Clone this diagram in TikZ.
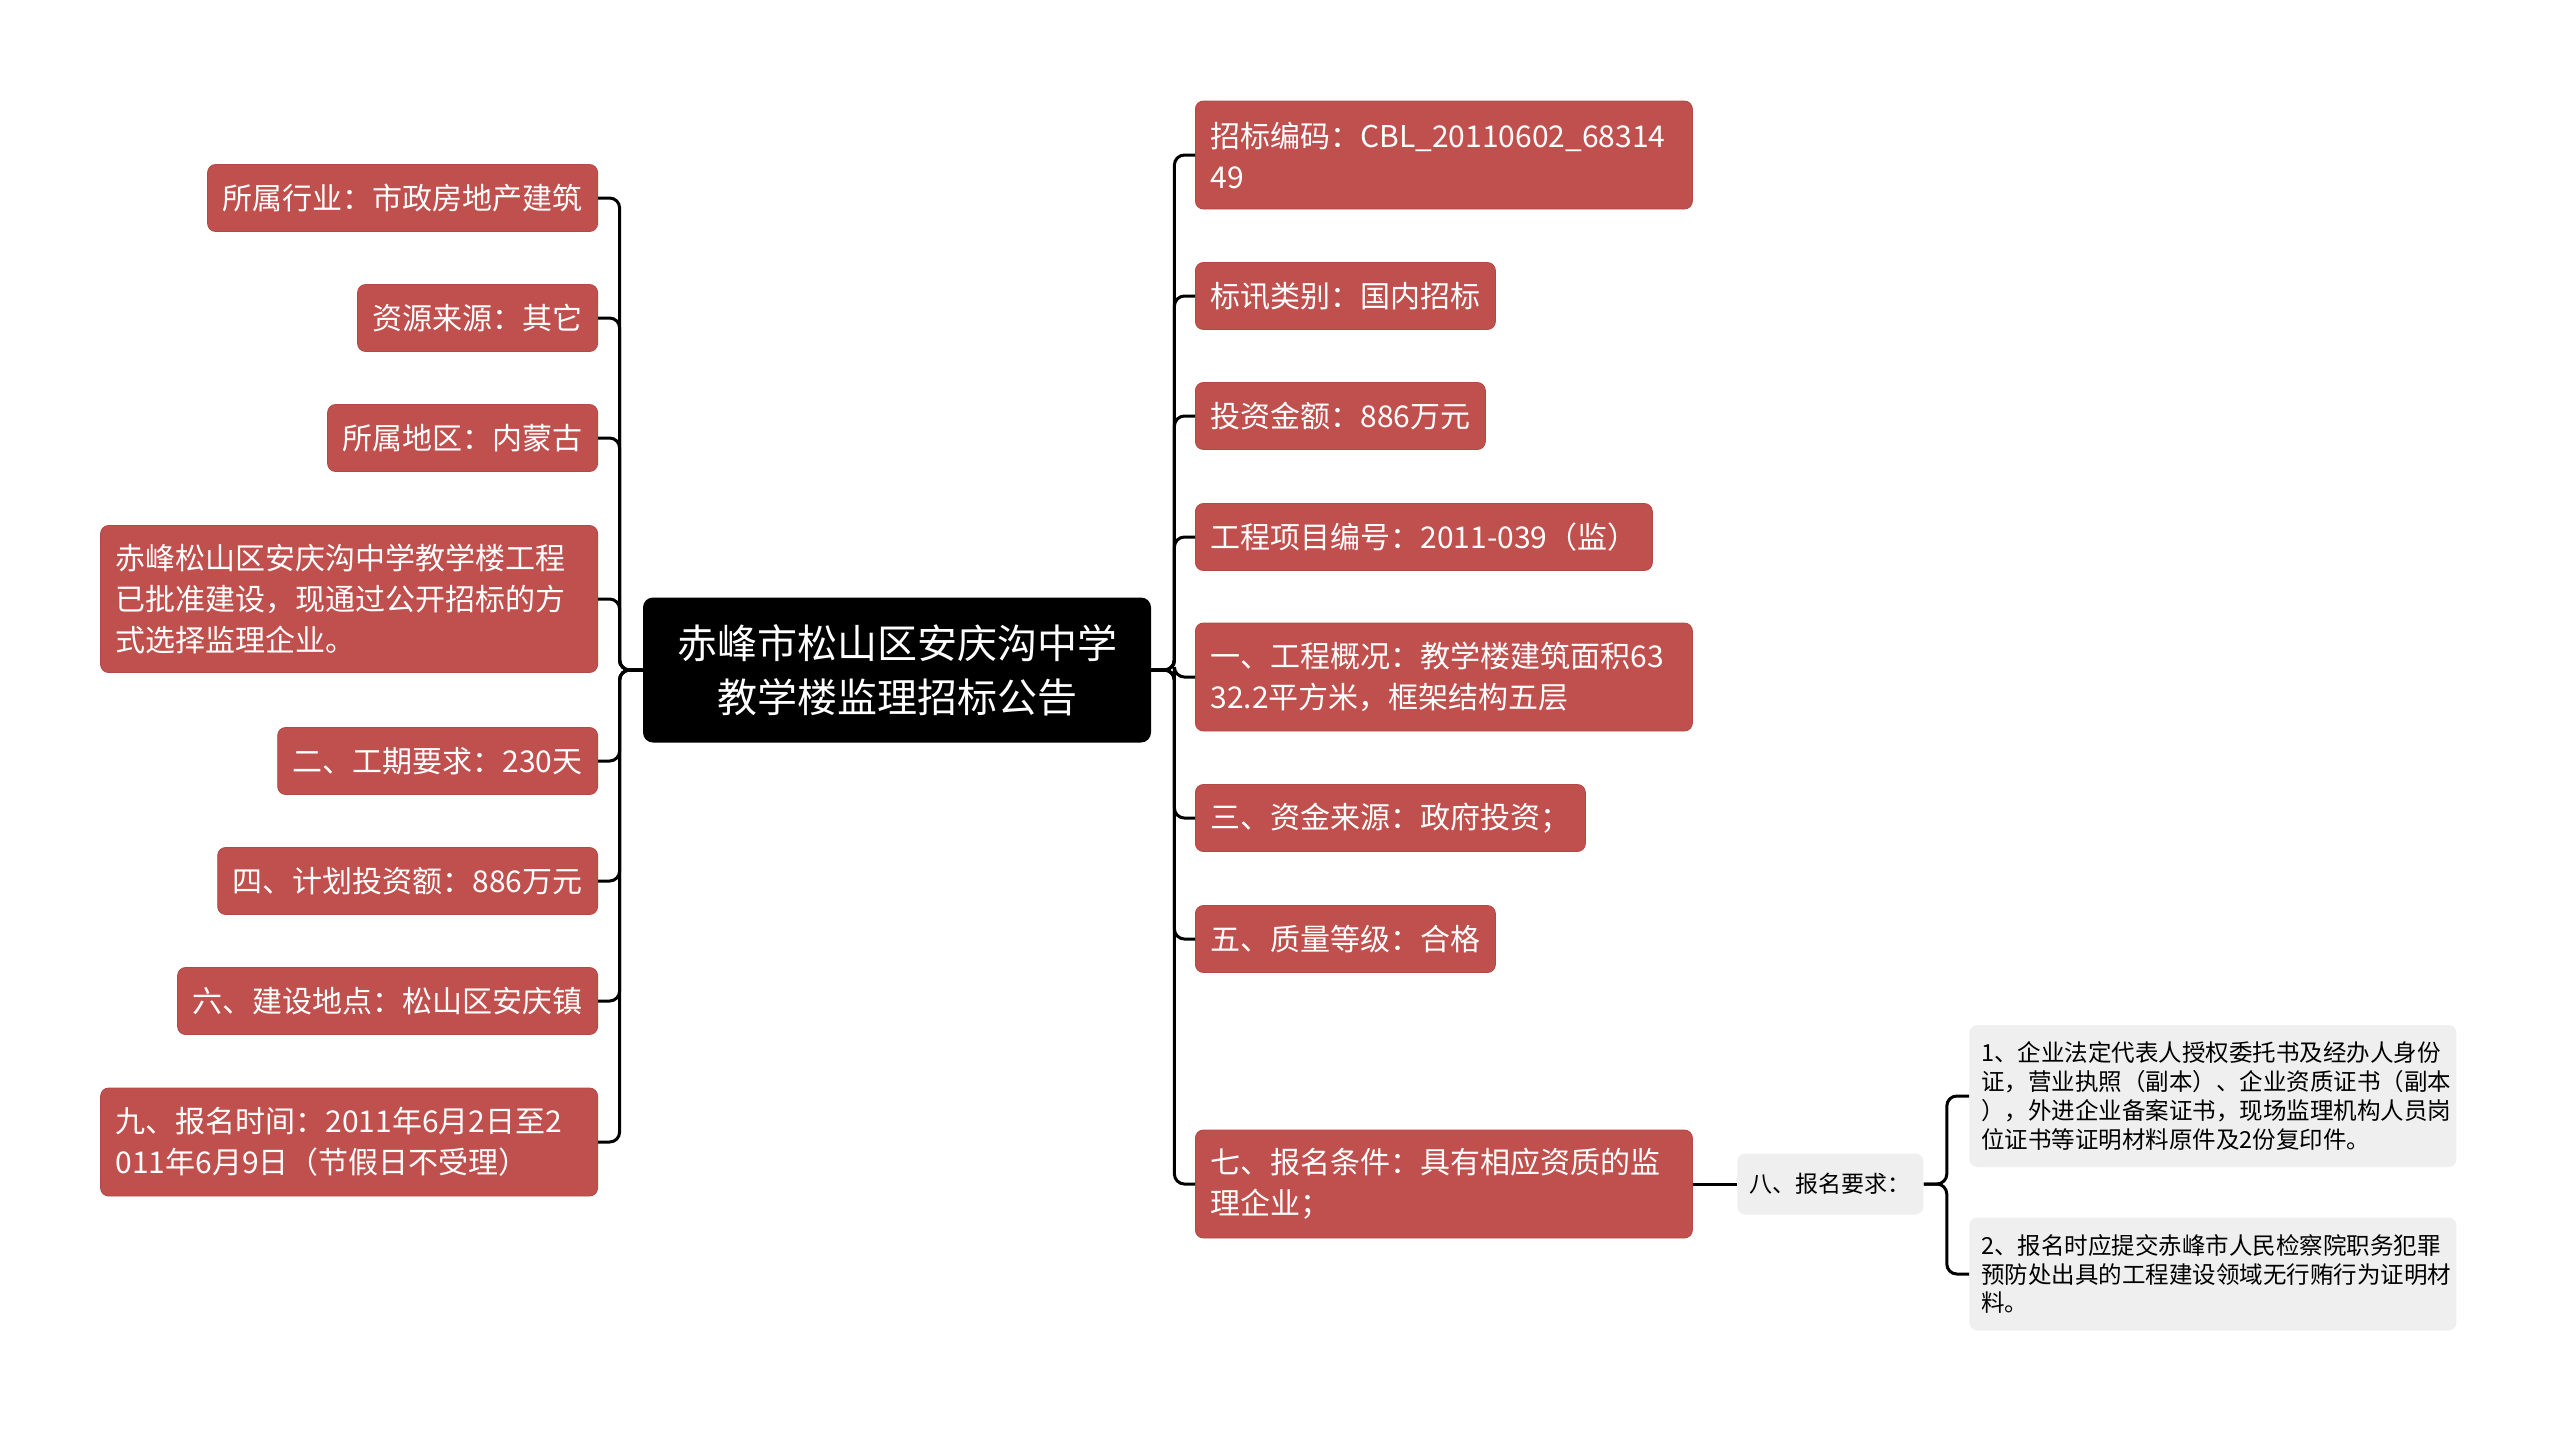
\documentclass[tikz,border=0pt]{standalone}
\usepackage{fontspec}
\setmainfont{Noto Sans CJK SC}

\definecolor{leafred}{HTML}{C0504D}
\definecolor{leafgray}{HTML}{EFEFEF}

\tikzset{
  leaf/.style={fill=leafred, draw=leafred!92!black, line width=0.4pt, rounded corners=4pt,
    text=white, inner xsep=7.5pt, inner ysep=0pt, minimum height=33.5pt,
    font=\fontsize{15pt}{20.5pt}\selectfont, align=left},
  wide/.style={text width=233.5pt},
  tall2/.style={minimum height=54pt},
  tall3/.style={minimum height=73.5pt},
  remark/.style={fill=leafgray, rounded corners=4pt, text=black, inner xsep=6pt, inner ysep=0pt,
    font=\fontsize{11.75pt}{14.35pt}\selectfont, align=left},
  link/.style={draw=black, line width=1.5pt, rounded corners=5pt},
}

\begin{document}
\begin{tikzpicture}[x=0.5pt, y=-0.5pt]
    \useasboundingbox[fill=white] (0,0) rectangle (2560,1432);

    \node[fill=black, text=white, rounded corners=5pt, inner xsep=17pt, inner ysep=0pt,
      minimum height=72.5pt, align=center, font=\fontsize{20pt}{27pt}\selectfont]
      (title) at (897,670) {赤峰市松山区安庆沟中学\\教学楼监理招标公告};

    % left
    \node[leaf, anchor=east] (l1) at (598,198) {所属行业：市政房地产建筑};
    \node[leaf, anchor=east] (l2) at (598,318) {资源来源：其它};
    \node[leaf, anchor=east] (l3) at (598,438) {所属地区：内蒙古};
    \node[leaf, wide, tall3, anchor=east] (l4) at (598,599)
      {赤峰松山区安庆沟中学教学楼工程\\已批准建设，现通过公开招标的方\\式选择监理企业。};
    \node[leaf, anchor=east] (l5) at (598,761) {二、工期要求：230天};
    \node[leaf, anchor=east] (l6) at (598,881) {四、计划投资额：886万元};
    \node[leaf, anchor=east] (l7) at (598,1001) {六、建设地点：松山区安庆镇};
    \node[leaf, wide, tall2, anchor=east] (l8) at (598,1142)
      {九、报名时间：2011年6月2日至2\\011年6月9日（节假日不受理）};

    % right
    \node[leaf, wide, tall2, anchor=west] (r1) at (1195,155) {招标编码：CBL\_20110602\_68314\\49};
    \node[leaf, anchor=west] (r2) at (1195,296) {标讯类别：国内招标};
    \node[leaf, anchor=west] (r3) at (1195,416) {投资金额：886万元};
    \node[leaf, anchor=west] (r4) at (1195,537) {工程项目编号：2011-039（监）};
    \node[leaf, wide, tall2, anchor=west] (r5) at (1195,677)
      {一、工程概况：教学楼建筑面积63\\32.2平方米，框架结构五层};
    \node[leaf, anchor=west] (r6) at (1195,818) {三、资金来源：政府投资；};
    \node[leaf, anchor=west] (r7) at (1195,939) {五、质量等级：合格};
    \node[leaf, wide, tall2, anchor=west] (r8) at (1195,1184)
      {七、报名条件：具有相应资质的监\\理企业；};

    \node[remark, anchor=west, minimum height=30.5pt, inner xsep=6.25pt,
      font=\fontsize{11.5pt}{14pt}\selectfont] (req) at (1737,1184) {八、报名要求：};
    \node[remark, anchor=west, text width=231.5pt, minimum height=71pt] (s1) at (1969,1096)
      {1、企业法定代表人授权委托书及经办人身份\\证，营业执照（副本）、企业资质证书（副本\\），外进企业备案证书，现场监理机构人员岗\\位证书等证明材料原件及2份复印件。};
    \node[remark, anchor=west, text width=231.5pt, minimum height=56.5pt] (s2) at (1969,1274)
      {2、报名时应提交赤峰市人民检察院职务犯罪\\预防处出具的工程建设领域无行贿行为证明材\\料。};

    \foreach \n in {l1,l2,l3,l4,l5,l6,l7,l8}
    {
    \draw[link] (title.west) -- ++(-23,0) |- (\n.east);
    }
    \foreach \n in {r1,r2,r3,r4,r5,r6,r7,r8}
    {
    \draw[link] (title.east) -- ++(23,0) |- (\n.west);
    }
    \draw[link] (r8.east) -- (req.west);
    \foreach \n in {s1,s2}
    {
    \draw[link] (req.east) -- ++(23,0) |- (\n.west);
    }
\end{tikzpicture}
\end{document}
